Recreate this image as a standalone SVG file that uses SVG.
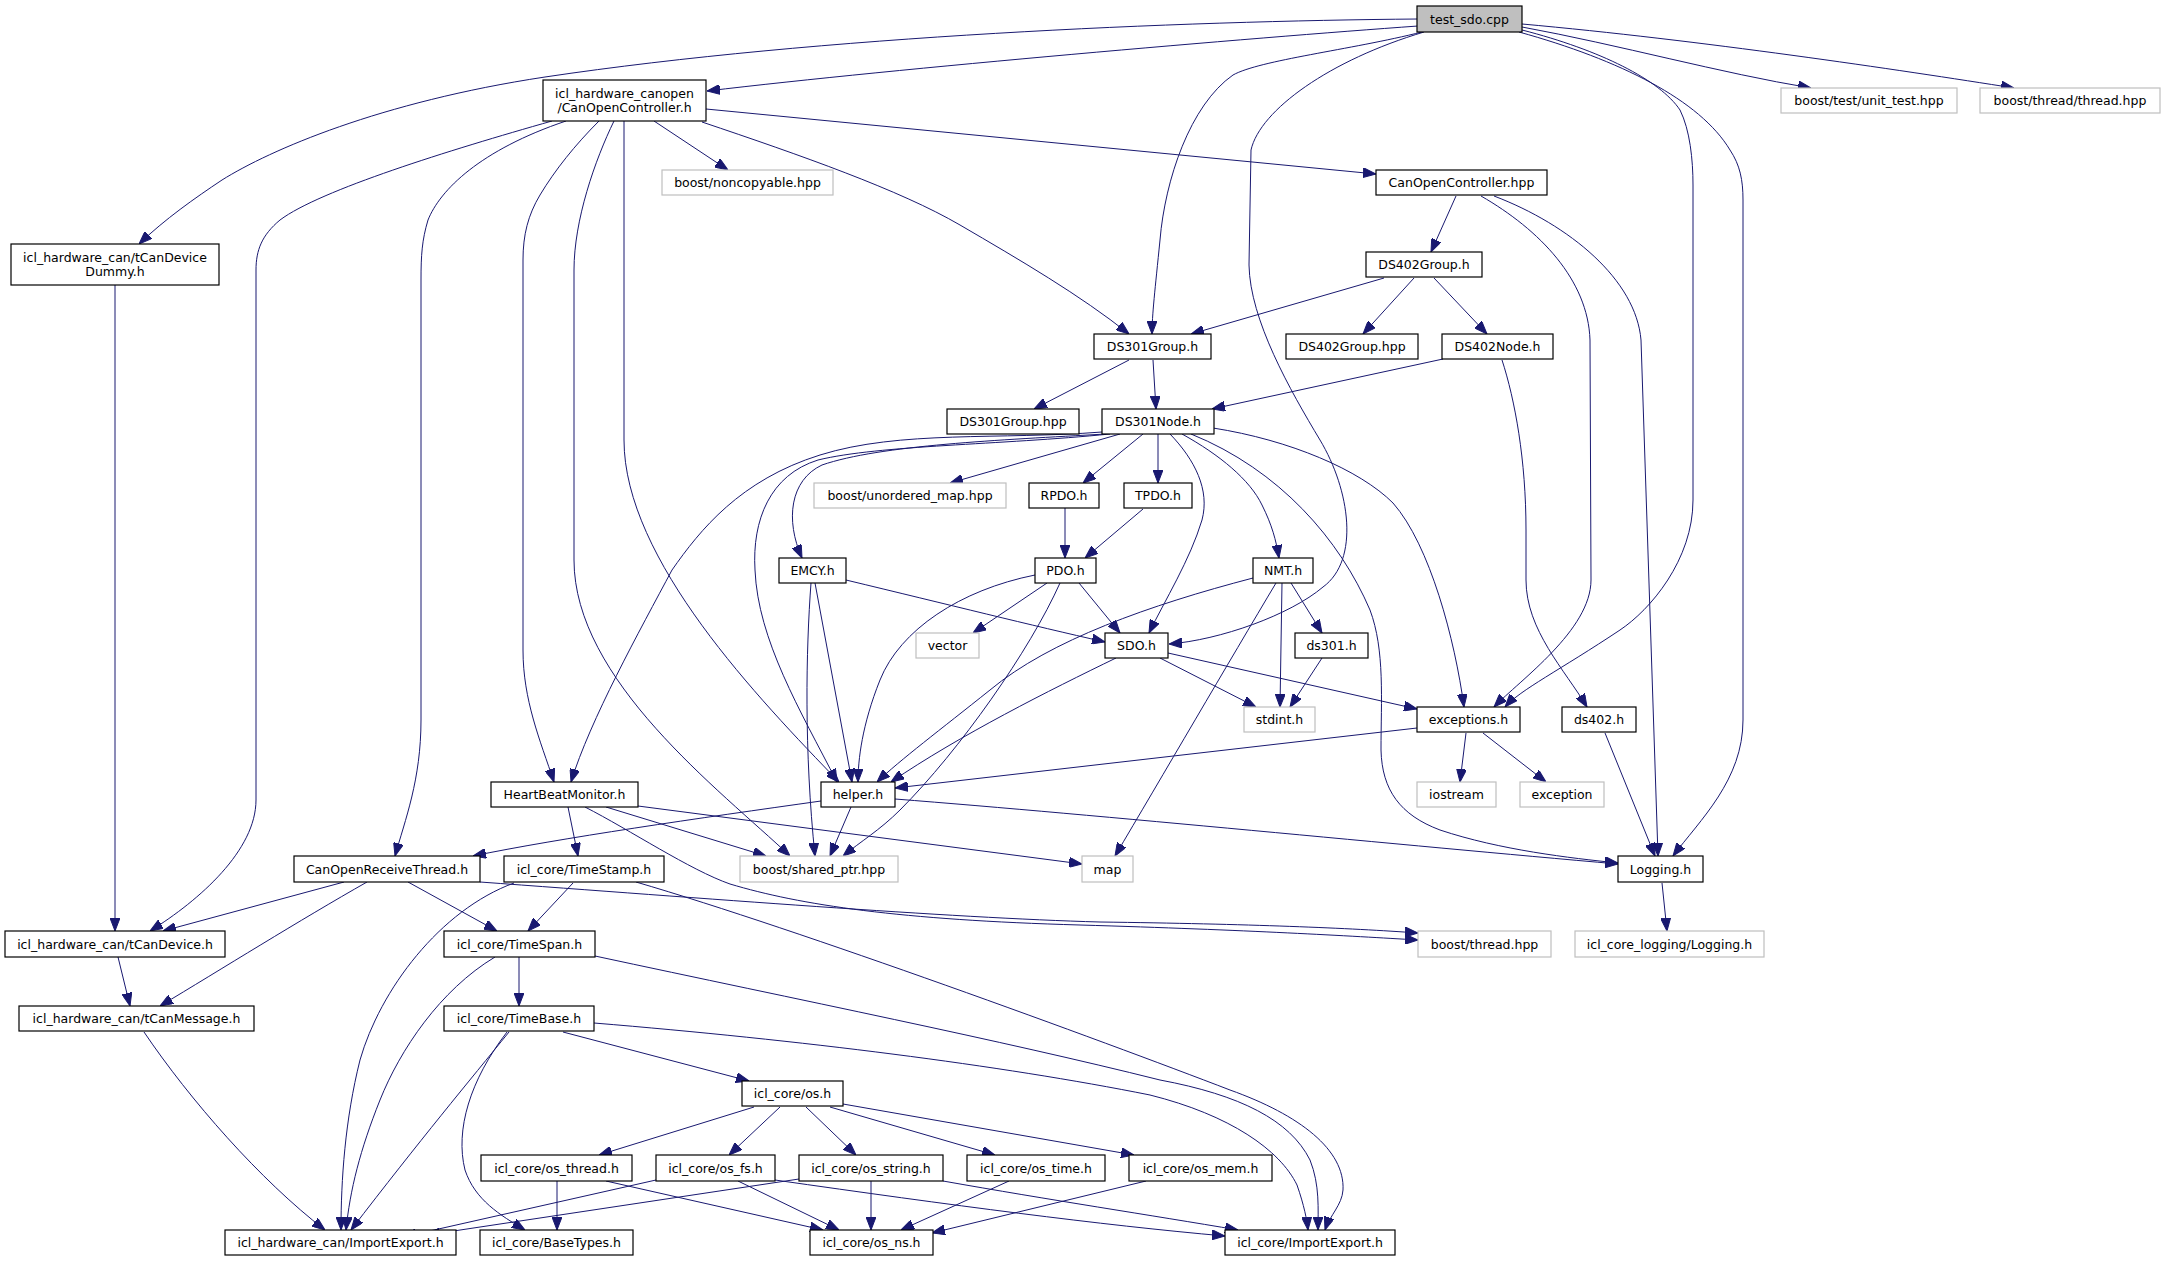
<svg xmlns="http://www.w3.org/2000/svg" width="2165" height="1261" viewBox="0 0 2165 1261">
<style>
.n rect{fill:#fff;stroke:#000;stroke-width:1.2}
.x rect{fill:#fff;stroke:#bfbfbf;stroke-width:1.2}
.r rect{fill:#bfbfbf;stroke:#000;stroke-width:1.2}
text{font-family:"DejaVu Sans","Liberation Sans",sans-serif;font-size:12.5px;text-anchor:middle;fill:#000}
#edges path{fill:none;stroke:#191970;stroke-width:1;marker-end:url(#a)}
</style>
<defs>
<marker id="a" markerUnits="userSpaceOnUse" markerWidth="13" markerHeight="10" viewBox="0 0 13 10" refX="13" refY="5" orient="auto">
<path d="M0,0 L13,5 L0,10 z" fill="#191970" stroke="#191970"/>
</marker>
</defs>
<rect width="2165" height="1261" fill="#fff"/>
<g id="edges">
<path d="M1418,19 C1180,21 820,36 545,77 C380,102 270,150 222,180 C195,198 165,219 139,244"/>
<path d="M1418,26 C1250,38 900,68 707,91"/>
<path d="M1422,32 C1350,50 1260,60 1233,75 C1190,105 1165,180 1160,240 C1155,290 1152,315 1152,334"/>
<path d="M1424,32 C1330,60 1260,110 1251,150 L1249,265 C1250,320 1290,390 1320,440 C1350,490 1360,560 1323,587 C1290,615 1220,640 1169,644"/>
<path d="M1522,27 C1620,45 1720,73 1811,88"/>
<path d="M1522,24 C1700,40 1900,70 2014,88"/>
<path d="M1522,30 C1600,50 1660,80 1680,110 C1690,130 1693,160 1693,185 L1693,500 C1693,560 1650,610 1620,630 C1560,670 1520,690 1505,707"/>
<path d="M1519,32 C1620,60 1700,100 1730,150 C1740,165 1743,180 1743,200 L1743,720 C1743,780 1700,820 1673,856"/>
<path d="M1456,196 L1431,252"/>
<path d="M1481,196 C1540,230 1588,280 1590,340 L1591,580 C1591,630 1520,680 1494,707"/>
<path d="M1494,196 C1570,225 1636,280 1641,340 L1658,856"/>
<path d="M1384,278 L1191,334"/>
<path d="M1414,278 L1363,334"/>
<path d="M1434,278 L1487,334"/>
<path d="M1129,360 L1034,409"/>
<path d="M1153,360 L1156,409"/>
<path d="M1443,359 L1212,409"/>
<path d="M1502,360 C1515,400 1526,460 1526,530 L1526,580 C1526,630 1565,670 1587,707"/>
<path d="M1102,432 C1000,440 900,430 820,455 C740,480 700,530 672,570 C640,630 590,720 571,782"/>
<path d="M1110,434 C1000,445 880,445 818,460 C770,475 752,520 755,570 C758,640 800,710 837,782"/>
<path d="M1106,434 C1000,440 880,445 822,465 C790,480 785,520 802,558"/>
<path d="M1120,434 L950,483"/>
<path d="M1143,434 L1083,483"/>
<path d="M1158,434 L1158,483"/>
<path d="M1170,434 C1195,460 1210,490 1202,520 C1190,560 1165,600 1149,633"/>
<path d="M1182,434 C1220,455 1250,480 1262,505 C1272,525 1276,540 1279,558"/>
<path d="M1191,434 C1280,470 1340,540 1370,610 C1385,650 1381,700 1381,750 C1382,790 1400,815 1440,830 C1500,850 1570,858 1618,863"/>
<path d="M1213,428 C1290,440 1360,470 1393,503 C1430,545 1455,640 1464,707"/>
<path d="M1065,508 L1065,558"/>
<path d="M1143,509 L1085,558"/>
<path d="M846,580 C950,605 1030,625 1105,642"/>
<path d="M815,583 L852,782"/>
<path d="M811,583 C806,650 804,750 815,856"/>
<path d="M1047,583 L973,633"/>
<path d="M1035,575 C960,590 900,630 880,680 C862,725 858,760 858,782"/>
<path d="M1079,583 L1120,633"/>
<path d="M1060,583 C1030,650 960,750 900,810 C880,830 860,842 843,856"/>
<path d="M1253,578 C1150,605 1050,640 990,690 C940,730 900,760 877,782"/>
<path d="M1282,583 L1280,707"/>
<path d="M1291,583 L1322,633"/>
<path d="M1276,583 C1230,660 1160,780 1115,856"/>
<path d="M1322,658 L1290,707"/>
<path d="M1116,658 C1050,690 960,735 891,782"/>
<path d="M1160,658 L1256,707"/>
<path d="M1168,653 L1417,709"/>
<path d="M1417,728 L895,788"/>
<path d="M1466,733 L1460,782"/>
<path d="M1483,733 L1546,782"/>
<path d="M1605,733 L1655,856"/>
<path d="M821,801 C700,818 560,838 473,856"/>
<path d="M851,807 L830,856"/>
<path d="M895,799 C1100,815 1400,845 1618,864"/>
<path d="M568,807 L578,856"/>
<path d="M606,807 L766,856"/>
<path d="M638,806 L1082,864"/>
<path d="M585,807 C630,830 690,870 730,884 C800,905 900,920 1080,925 C1250,930 1350,936 1418,940"/>
<path d="M480,882 C700,898 950,918 1100,922 C1250,924 1350,928 1418,933"/>
<path d="M344,882 L163,931"/>
<path d="M367,882 C300,920 220,970 160,1006"/>
<path d="M408,882 L497,931"/>
<path d="M115,285 L115,931"/>
<path d="M552,121 C450,150 320,190 280,220 C262,235 256,250 256,270 L256,800 C256,850 200,900 150,931"/>
<path d="M566,121 C480,150 440,190 428,220 C422,240 421,255 421,280 L421,720 C421,780 405,820 395,856"/>
<path d="M599,121 C575,145 555,170 540,195 C528,215 523,235 523,260 L523,650 C523,700 540,740 554,782"/>
<path d="M614,121 C595,160 574,220 574,270 L574,560 C574,680 720,790 790,856"/>
<path d="M624,121 L624,440 C624,560 760,700 839,782"/>
<path d="M654,121 L728,170"/>
<path d="M702,122 C800,155 900,190 960,225 C1020,260 1080,295 1129,334"/>
<path d="M706,109 L1376,174"/>
<path d="M118,957 L130,1006"/>
<path d="M144,1032 C190,1100 260,1180 325,1230"/>
<path d="M573,883 L528,931"/>
<path d="M514,883 C440,910 380,990 360,1060 C345,1120 341,1180 341,1230"/>
<path d="M636,882 C800,930 1100,1040 1230,1090 C1300,1115 1345,1150 1343,1190 C1342,1205 1330,1215 1325,1230"/>
<path d="M519,957 L519,1006"/>
<path d="M495,957 C440,990 400,1050 380,1100 C360,1150 350,1190 346,1230"/>
<path d="M595,956 C800,1000 1000,1040 1160,1080 C1240,1095 1290,1120 1310,1160 C1320,1185 1318,1210 1318,1230"/>
<path d="M594,1023 C800,1040 1000,1065 1150,1095 C1230,1115 1280,1150 1297,1185 C1304,1205 1307,1220 1308,1230"/>
<path d="M563,1032 L749,1081"/>
<path d="M509,1032 C470,1080 420,1140 351,1230"/>
<path d="M507,1032 C470,1080 455,1130 465,1170 C475,1200 500,1215 525,1230"/>
<path d="M754,1107 L599,1155"/>
<path d="M780,1107 L729,1155"/>
<path d="M806,1107 L856,1155"/>
<path d="M830,1107 L995,1155"/>
<path d="M843,1104 L1134,1155"/>
<path d="M557,1181 L557,1230"/>
<path d="M606,1181 L823,1230"/>
<path d="M656,1180 L403,1237"/>
<path d="M799,1179 L427,1235"/>
<path d="M738,1181 L839,1230"/>
<path d="M775,1180 C950,1205 1100,1225 1225,1236"/>
<path d="M943,1181 C1050,1200 1150,1215 1238,1230"/>
<path d="M871,1181 L871,1230"/>
<path d="M1009,1181 L901,1230"/>
<path d="M1146,1181 L932,1233"/>
<path d="M1662,883 L1667,931"/>
</g>
<g id="n_test_sdo" class="r"><rect x="1417" y="6" width="105" height="26"/><text x="1469.5" y="23.5">test_sdo.cpp</text></g>
<g id="n_CanOpenController_h" class="n"><rect x="543" y="80" width="163" height="41"/><text x="624.5" y="97.5">icl_hardware_canopen</text><text x="624.5" y="111.5">/CanOpenController.h</text></g>
<g id="n_noncopyable" class="x"><rect x="662" y="170" width="171" height="25"/><text x="747.5" y="187">boost/noncopyable.hpp</text></g>
<g id="n_tCanDeviceDummy" class="n"><rect x="11" y="244" width="208" height="41"/><text x="115" y="261.5">icl_hardware_can/tCanDevice</text><text x="115" y="275.5">Dummy.h</text></g>
<g id="n_unit_test" class="x"><rect x="1781" y="88" width="176" height="25"/><text x="1869" y="105">boost/test/unit_test.hpp</text></g>
<g id="n_thread_thread" class="x"><rect x="1980" y="88" width="180" height="25"/><text x="2070" y="105">boost/thread/thread.hpp</text></g>
<g id="n_CanOpenController_hpp" class="n"><rect x="1376" y="170" width="171" height="25"/><text x="1461.5" y="187">CanOpenController.hpp</text></g>
<g id="n_DS402Group_h" class="n"><rect x="1366" y="252" width="116" height="25"/><text x="1424" y="269">DS402Group.h</text></g>
<g id="n_DS301Group_h" class="n"><rect x="1094" y="334" width="117" height="25"/><text x="1152.5" y="351">DS301Group.h</text></g>
<g id="n_DS402Group_hpp" class="n"><rect x="1286" y="334" width="132" height="25"/><text x="1352" y="351">DS402Group.hpp</text></g>
<g id="n_DS402Node_h" class="n"><rect x="1442" y="334" width="111" height="25"/><text x="1497.5" y="351">DS402Node.h</text></g>
<g id="n_DS301Node_h" class="n"><rect x="1102" y="409" width="112" height="25"/><text x="1158" y="426">DS301Node.h</text></g>
<g id="n_DS301Group_hpp" class="n"><rect x="947" y="409" width="132" height="25"/><text x="1013" y="426">DS301Group.hpp</text></g>
<g id="n_unordered_map" class="x"><rect x="814" y="483" width="192" height="25"/><text x="910" y="500">boost/unordered_map.hpp</text></g>
<g id="n_RPDO_h" class="n"><rect x="1029" y="483" width="70" height="25"/><text x="1064" y="500">RPDO.h</text></g>
<g id="n_TPDO_h" class="n"><rect x="1124" y="483" width="68" height="25"/><text x="1158" y="500">TPDO.h</text></g>
<g id="n_EMCY_h" class="n"><rect x="779" y="558" width="67" height="25"/><text x="812.5" y="575">EMCY.h</text></g>
<g id="n_PDO_h" class="n"><rect x="1035" y="558" width="61" height="25"/><text x="1065.5" y="575">PDO.h</text></g>
<g id="n_NMT_h" class="n"><rect x="1253" y="558" width="60" height="25"/><text x="1283" y="575">NMT.h</text></g>
<g id="n_vector" class="x"><rect x="916" y="633" width="63" height="25"/><text x="947.5" y="650">vector</text></g>
<g id="n_SDO_h" class="n"><rect x="1105" y="633" width="63" height="25"/><text x="1136.5" y="650">SDO.h</text></g>
<g id="n_ds301_h" class="n"><rect x="1295" y="633" width="73" height="25"/><text x="1331.5" y="650">ds301.h</text></g>
<g id="n_stdint_h" class="x"><rect x="1244" y="707" width="71" height="25"/><text x="1279.5" y="724">stdint.h</text></g>
<g id="n_exceptions_h" class="n"><rect x="1417" y="707" width="103" height="25"/><text x="1468.5" y="724">exceptions.h</text></g>
<g id="n_ds402_h" class="n"><rect x="1562" y="707" width="74" height="25"/><text x="1599" y="724">ds402.h</text></g>
<g id="n_helper_h" class="n"><rect x="821" y="782" width="74" height="25"/><text x="858" y="799">helper.h</text></g>
<g id="n_HeartBeatMonitor_h" class="n"><rect x="491" y="782" width="147" height="25"/><text x="564.5" y="799">HeartBeatMonitor.h</text></g>
<g id="n_iostream" class="x"><rect x="1417" y="782" width="79" height="25"/><text x="1456.5" y="799">iostream</text></g>
<g id="n_exception" class="x"><rect x="1520" y="782" width="84" height="25"/><text x="1562" y="799">exception</text></g>
<g id="n_CanOpenReceiveThread_h" class="n"><rect x="294" y="856" width="186" height="26"/><text x="387" y="873.5">CanOpenReceiveThread.h</text></g>
<g id="n_TimeStamp_h" class="n"><rect x="504" y="856" width="160" height="26"/><text x="584" y="873.5">icl_core/TimeStamp.h</text></g>
<g id="n_shared_ptr" class="x"><rect x="740" y="856" width="158" height="26"/><text x="819" y="873.5">boost/shared_ptr.hpp</text></g>
<g id="n_map" class="x"><rect x="1082" y="856" width="51" height="26"/><text x="1107.5" y="873.5">map</text></g>
<g id="n_Logging_h" class="n"><rect x="1618" y="856" width="85" height="26"/><text x="1660.5" y="873.5">Logging.h</text></g>
<g id="n_tCanDevice_h" class="n"><rect x="5" y="931" width="220" height="26"/><text x="115" y="948.5">icl_hardware_can/tCanDevice.h</text></g>
<g id="n_TimeSpan_h" class="n"><rect x="444" y="931" width="151" height="26"/><text x="519.5" y="948.5">icl_core/TimeSpan.h</text></g>
<g id="n_boost_thread" class="x"><rect x="1418" y="931" width="133" height="26"/><text x="1484.5" y="948.5">boost/thread.hpp</text></g>
<g id="n_core_logging" class="x"><rect x="1575" y="931" width="189" height="26"/><text x="1669.5" y="948.5">icl_core_logging/Logging.h</text></g>
<g id="n_tCanMessage_h" class="n"><rect x="19" y="1006" width="235" height="25"/><text x="136.5" y="1023">icl_hardware_can/tCanMessage.h</text></g>
<g id="n_TimeBase_h" class="n"><rect x="444" y="1006" width="150" height="25"/><text x="519" y="1023">icl_core/TimeBase.h</text></g>
<g id="n_os_h" class="n"><rect x="742" y="1081" width="101" height="25"/><text x="792.5" y="1098">icl_core/os.h</text></g>
<g id="n_os_thread_h" class="n"><rect x="481" y="1155" width="151" height="26"/><text x="556.5" y="1172.5">icl_core/os_thread.h</text></g>
<g id="n_os_fs_h" class="n"><rect x="656" y="1155" width="119" height="26"/><text x="715.5" y="1172.5">icl_core/os_fs.h</text></g>
<g id="n_os_string_h" class="n"><rect x="799" y="1155" width="144" height="26"/><text x="871" y="1172.5">icl_core/os_string.h</text></g>
<g id="n_os_time_h" class="n"><rect x="967" y="1155" width="138" height="26"/><text x="1036" y="1172.5">icl_core/os_time.h</text></g>
<g id="n_os_mem_h" class="n"><rect x="1129" y="1155" width="143" height="26"/><text x="1200.5" y="1172.5">icl_core/os_mem.h</text></g>
<g id="n_hw_ImportExport_h" class="n"><rect x="225" y="1230" width="231" height="25"/><text x="340.5" y="1247">icl_hardware_can/ImportExport.h</text></g>
<g id="n_BaseTypes_h" class="n"><rect x="480" y="1230" width="153" height="25"/><text x="556.5" y="1247">icl_core/BaseTypes.h</text></g>
<g id="n_os_ns_h" class="n"><rect x="810" y="1230" width="123" height="25"/><text x="871.5" y="1247">icl_core/os_ns.h</text></g>
<g id="n_core_ImportExport_h" class="n"><rect x="1225" y="1230" width="170" height="25"/><text x="1310" y="1247">icl_core/ImportExport.h</text></g>
</svg>
